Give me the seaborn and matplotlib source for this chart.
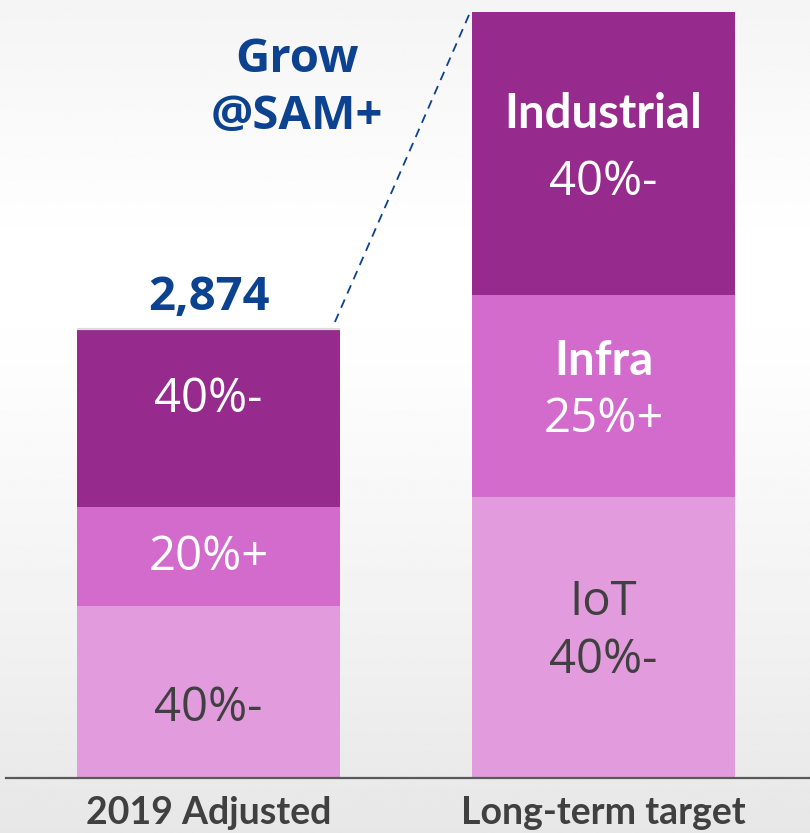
import numpy as np
import pandas as pd
import matplotlib
matplotlib.use("Agg")
import matplotlib.pyplot as plt
import seaborn as sns

# ---- data -------------------------------------------------------------
periods = ["2019 Adjusted", "Long-term target"]
iot = [1101, 1799]
infra = [634, 1293]
industrial = [1139, 1811]

segment_names = ["IoT", "Infra", "Industrial"]
segment_colors = ["#e29cdd", "#d36bcd", "#962b8d"]
share_labels = {
    "IoT": ["40%-", "40%-"],
    "Infra": ["20%+", "25%+"],
    "Industrial": ["40%-", "40%-"],
}
total_label = "2,874"
callout_lines = ["Grow", "@SAM+"]

NAVY = "#0c428f"
DARK = "#404040"

# ---- style --------------------------------------------------------------
sns.set_theme(style="white")
plt.rcParams["font.family"] = ["Open Sans", "DejaVu Sans"]
NAME_FONT = ["Lato", "Open Sans", "DejaVu Sans"]

W, H = 810, 833
fig = plt.figure(figsize=(W / 100, H / 100), dpi=100)

# soft vertical background gradient
bg = fig.add_axes([0, 0, 1, 1], zorder=0)
ys = np.linspace(0, 1, 400)
shade = np.interp(ys, [0.0, 0.30, 0.42, 0.80, 1.0], [0.958, 1.0, 0.995, 0.94, 0.905])
bg.imshow(np.tile(shade[:, None], (1, 2)), aspect="auto", cmap="gray",
          vmin=0, vmax=1, extent=[0, 1, 0, 1], origin="upper")
bg.set_axis_off()

base_px = 778
ax = fig.add_axes([0, (H - base_px) / H, 1, base_px / H], zorder=1)
ax.patch.set_alpha(0)

df = pd.DataFrame({"period": periods, "IoT": iot, "Infra": infra,
                   "Industrial": industrial})
df["c_IoT"] = df["IoT"]
df["c_Infra"] = df["c_IoT"] + df["Infra"]
df["c_Industrial"] = df["c_Infra"] + df["Industrial"]

bar_w = 0.666
# stacked bars: draw cumulative heights from the tallest layer down
for name, col in reversed(list(zip(segment_names, segment_colors))):
    sns.barplot(data=df, x="period", y=f"c_{name}", color=col, width=bar_w,
                saturation=1, linewidth=0, edgecolor="none", ax=ax, zorder=2)

totals = df["c_Industrial"].to_numpy()
px_per_unit = totals[0] / 449.0
ax.set_ylim(0, base_px * px_per_unit)
ax.set_xlim(-0.528, 1.523)

# thin grey cap on the left bar
ax.plot([-bar_w / 2, bar_w / 2], [totals[0], totals[0]], color="#dcdcdc",
        lw=1.6, zorder=3, solid_capstyle="butt")

def pt(px):
    return px * 0.72

reg = dict(fontsize=34, ha="center", va="baseline", textcoords="offset points")
# left bar: percentages only
left_offsets = {"IoT": -29, "Infra": -14, "Industrial": 6}
left_colors = {"IoT": DARK, "Infra": "white", "Industrial": "white"}
# right bar: name above, percentage below
name_offsets = {"IoT": 22, "Infra": 21, "Industrial": 25.5}
pct_offsets = {"IoT": -36, "Infra": -36, "Industrial": -41.5}

bottoms = {"IoT": np.zeros(2), "Infra": df["c_IoT"].to_numpy(),
           "Industrial": df["c_Infra"].to_numpy()}
for name in segment_names:
    vals = df[name].to_numpy()
    centers = bottoms[name] + vals / 2
    ax.annotate(share_labels[name][0], (0, centers[0]),
                xytext=(0, pt(left_offsets[name])), color=left_colors[name],
                zorder=4, **reg)
    c = DARK if name == "IoT" else "white"
    if name == "IoT":
        ax.annotate(name, (1, centers[1]), xytext=(0, pt(name_offsets[name])),
                    color=c, zorder=4, **reg)
    else:
        ax.annotate(name, (1, centers[1]), xytext=(0, pt(name_offsets[name])),
                    color=c, fontweight="bold", family=NAME_FONT, zorder=4,
                    **reg)
    ax.annotate(share_labels[name][1], (1, centers[1]),
                xytext=(0, pt(pct_offsets[name])), color=c, zorder=4, **reg)

# total above left bar
ax.annotate(total_label, (0, totals[0]), xytext=(0, pt(19)),
            textcoords="offset points", ha="center", va="baseline",
            fontsize=34, fontweight="bold", color=NAVY, zorder=4)

# dashed connector between the bar tops
ax.plot([bar_w / 2 - 0.013, 1 - bar_w / 2 - 0.002],
        [totals[0] + 7 * px_per_unit, totals[1] + 2 * px_per_unit],
        color=NAVY, lw=1.3, dashes=(5, 3.6), zorder=3)

# callout
for line, base in zip(callout_lines, [72, 129]):
    fig.text(297 / W, 1 - base / H, line, ha="center", va="baseline",
             fontsize=34, fontweight="bold", color=NAVY, zorder=5)

# axis styling
ax.set_xlabel("")
ax.set_ylabel("")
ax.set_yticks([])
ax.tick_params(axis="x", length=0, pad=13, labelsize=27, labelcolor=DARK)
for lab in ax.get_xticklabels():
    lab.set_fontweight("bold")
    lab.set_family(NAME_FONT)
for s in ["top", "left", "right"]:
    ax.spines[s].set_visible(False)
ax.spines["bottom"].set_color("#595959")
ax.spines["bottom"].set_linewidth(1.6)
ax.spines["bottom"].set_bounds(-0.528 + 6 / 395, 1.523)
ax.spines["bottom"].set_zorder(5)

fig.savefig("out.png", dpi=100)
